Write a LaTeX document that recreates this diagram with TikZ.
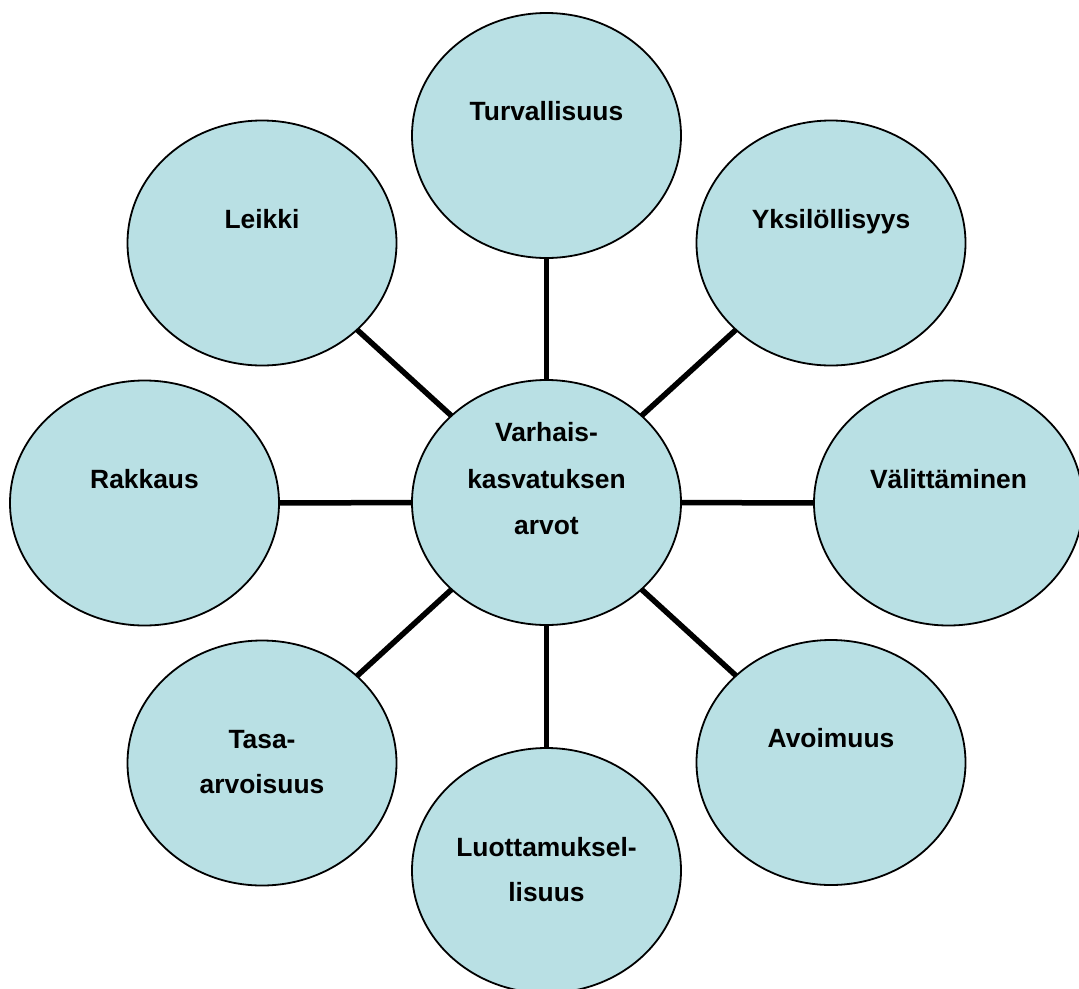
\documentclass[tikz,border=0pt]{standalone}
\usepackage{fontspec}
\setmainfont{Liberation Sans}
\usetikzlibrary{shapes.geometric,backgrounds}
\definecolor{bubfill}{RGB}{185,224,228}
\begin{document}
\begin{tikzpicture}[x=1pt,y=-1pt,
  bub/.style={ellipse,draw=black,line width=1.8pt,fill=bubfill,minimum width=269pt,minimum height=245pt,inner sep=0pt},
  txt/.style={anchor=base,inner sep=0pt,font=\fontsize{26.4}{46}\selectfont\bfseries},
  conn/.style={line width=5.5pt,draw=black}]
\useasboundingbox (0,0) rectangle (1079,988);
\node[bub] (c) at (546.5,502.5) {};
\node[bub] (tur) at (546.5,135.5) {};
\node[bub] (yks) at (831,243) {};
\node[bub] (val) at (948.5,503) {};
\node[bub] (avo) at (831,762.5) {};
\node[bub] (luo) at (546.5,870.5) {};
\node[bub] (tas) at (262,763) {};
\node[bub] (rak) at (144.5,503) {};
\node[bub] (lei) at (262,243) {};
\begin{scope}[on background layer]
\fill[white] (0,0) rectangle (1079,988);
\draw[conn] (c.center) -- (tur.center);
\draw[conn] (c.center) -- (yks.center);
\draw[conn] (c.center) -- (val.center);
\draw[conn] (c.center) -- (avo.center);
\draw[conn] (c.center) -- (luo.center);
\draw[conn] (c.center) -- (tas.center);
\draw[conn] (c.center) -- (rak.center);
\draw[conn] (c.center) -- (lei.center);
\end{scope}
\node[txt] (c1) at ([yshift=61pt]c.center) {Varhais-};
\node[txt] (c2) at ([yshift=14.5pt]c.center) {kasvatuksen};
\node[txt] (c3) at ([yshift=-32pt]c.center) {arvot};
\node[txt] (tur1) at ([yshift=15pt]tur.center) {Turvallisuus};
\node[txt] (yks1) at ([yshift=15pt]yks.center) {Yksilöllisyys};
\node[txt] (val1) at ([yshift=15pt]val.center) {Välittäminen};
\node[txt] (avo1) at ([yshift=15pt]avo.center) {Avoimuus};
\node[txt] (luo1) at ([yshift=14.5pt]luo.center) {Luottamuksel-};
\node[txt] (luo2) at ([yshift=-31pt]luo.center) {lisuus};
\node[txt] (tas1) at ([yshift=15pt]tas.center) {Tasa-};
\node[txt] (tas2) at ([yshift=-30.5pt]tas.center) {arvoisuus};
\node[txt] (rak1) at ([yshift=14.5pt]rak.center) {Rakkaus};
\node[txt] (lei1) at ([yshift=15pt]lei.center) {Leikki};
\end{tikzpicture}
\end{document}
